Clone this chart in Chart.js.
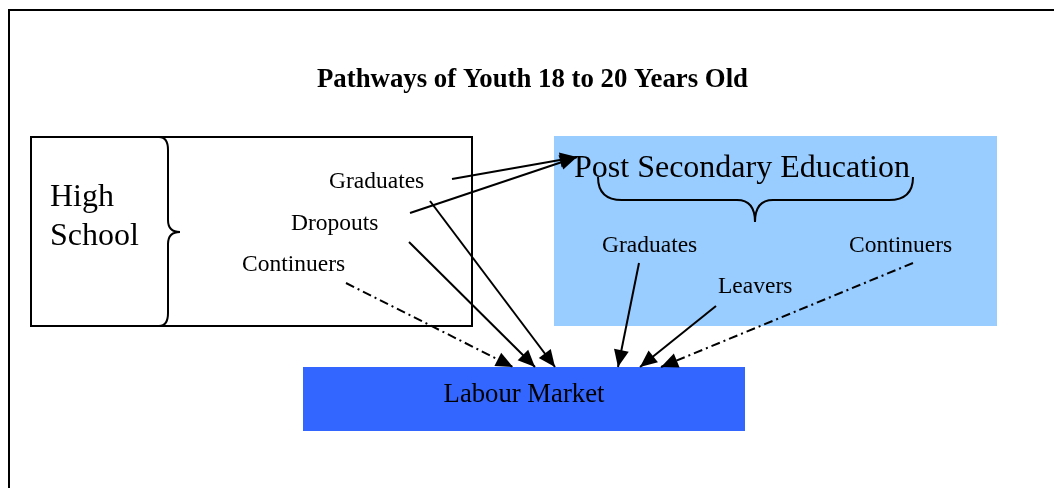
<!DOCTYPE html>
<html><head><meta charset="utf-8">
<script src="https://cdn.jsdelivr.net/npm/chart.js@4/dist/chart.umd.min.js"></script>
<style>html,body{margin:0;padding:0;background:#fff}#wrap{width:1054px;height:488px;position:relative}</style>
</head><body><div id="wrap"><canvas id="c"></canvas></div>
<script>
// ---- content ----
const chartTitle = 'Pathways of Youth 18 to 20 Years Old';
const stages = ['High School', 'Post Secondary Education', 'Labour Market'];
const hsOutcomes = ['Graduates', 'Dropouts', 'Continuers'];
const pseOutcomes = ['Graduates', 'Leavers', 'Continuers'];
// flows between stages
const flowSource  = ['High School','High School','High School','High School','High School','Post Secondary Education','Post Secondary Education','Post Secondary Education'];
const flowOutcome = ['Graduates','Dropouts','Graduates','Dropouts','Continuers','Graduates','Leavers','Continuers'];
const flowTarget  = ['Post Secondary Education','Post Secondary Education','Labour Market','Labour Market','Labour Market','Labour Market','Labour Market','Labour Market'];
const flowKind    = ['full','full','full','full','partial','full','full','partial'];

// ---- layout (diagram coordinates, mapped through the chart scales) ----
const stageBox = { // x0, y0, x1, y1
  'High School': [31, 137, 472, 326],
  'Post Secondary Education': [554, 136, 997, 326],
  'Labour Market': [303, 367, 745, 431]
};
const stageFill = {'High School': null, 'Post Secondary Education': '#99CCFF', 'Labour Market': '#3366FF'};
const hsOutcomePos  = [[329, 188], [291, 230], [242, 271]];
const pseOutcomePos = [[602, 252], [718, 293], [849, 252]];
const flowStart = [[452,179],[410,213],[430,201],[409,242],[346,283],[639,263],[716,306],[913,263]];
const flowEnd   = [[577,157],[577,157],[555,367],[535,367],[513,367],[618,367],[640,367],[661,367]];
const serif = '"Liberation Serif", "Times New Roman", serif';

const datasets = flowSource.map((s, i) => ({
  label: s + ' ' + flowOutcome[i] + ' \u2192 ' + flowTarget[i],
  data: [{x: flowStart[i][0], y: flowStart[i][1]}, {x: flowEnd[i][0], y: flowEnd[i][1]}],
  showLine: true,
  borderColor: '#000',
  borderWidth: 2,
  borderDash: flowKind[i] === 'partial' ? [9, 4, 2, 4] : [],
  pointRadius: 0,
  clip: false
}));

const diagram = {
  id: 'diagram',
  beforeDraw(chart) {
    const c = chart.ctx;
    c.save(); c.fillStyle = '#fff'; c.fillRect(0, 0, chart.width, chart.height); c.restore();
  },
  beforeDatasetsDraw(chart) {
    const c = chart.ctx, X = v => chart.scales.x.getPixelForValue(v), Y = v => chart.scales.y.getPixelForValue(v);
    c.save();
    // outer frame (cut at the page edge)
    c.strokeStyle = '#000'; c.lineWidth = 2;
    c.beginPath(); c.moveTo(X(9), Y(488)); c.lineTo(X(9), Y(10)); c.lineTo(X(1054), Y(10)); c.stroke();
    // title
    c.fillStyle = '#000'; c.textAlign = 'center'; c.textBaseline = 'alphabetic';
    c.font = 'bold 26.8px ' + serif;
    c.fillText(chartTitle, X(532.5), Y(87));
    // stage boxes
    stages.forEach(s => {
      const b = stageBox[s];
      const x0 = X(b[0]), y0 = Y(b[1]), x1 = X(b[2]), y1 = Y(b[3]);
      if (stageFill[s]) { c.fillStyle = stageFill[s]; c.fillRect(x0, y0, x1 - x0, y1 - y0); }
      else { c.lineWidth = 2; c.strokeStyle = '#000'; c.strokeRect(x0, y0, x1 - x0, y1 - y0); }
    });
    // High School brace
    c.strokeStyle = '#000'; c.lineWidth = 2;
    c.beginPath();
    c.moveTo(X(159), Y(137));
    c.quadraticCurveTo(X(168), Y(137), X(168), Y(150));
    c.lineTo(X(168), Y(220));
    c.quadraticCurveTo(X(168), Y(232), X(180), Y(232));
    c.quadraticCurveTo(X(168), Y(232), X(168), Y(244));
    c.lineTo(X(168), Y(313));
    c.quadraticCurveTo(X(168), Y(326), X(159), Y(326));
    c.stroke();
    // Post Secondary brace
    c.beginPath();
    c.moveTo(X(598), Y(177));
    c.quadraticCurveTo(X(598), Y(200), X(622), Y(200));
    c.lineTo(X(737), Y(200));
    c.quadraticCurveTo(X(755), Y(200), X(755), Y(222));
    c.quadraticCurveTo(X(755), Y(200), X(773), Y(200));
    c.lineTo(X(889), Y(200));
    c.quadraticCurveTo(X(913), Y(200), X(913), Y(177));
    c.stroke();
    // stage labels
    c.fillStyle = '#000'; c.textAlign = 'left';
    c.font = '32px ' + serif;
    const hs = stages[0].split(' ');
    c.fillText(hs[0], X(50), Y(206));
    c.fillText(hs[1], X(50), Y(245));
    c.fillText(stages[1], X(574), Y(177));
    c.textAlign = 'center'; c.font = '26.7px ' + serif;
    c.fillText(stages[2], X(524), Y(402));
    // outcome labels
    c.textAlign = 'left'; c.font = '23.5px ' + serif;
    hsOutcomes.forEach((t, i) => c.fillText(t, X(hsOutcomePos[i][0]), Y(hsOutcomePos[i][1])));
    pseOutcomes.forEach((t, i) => c.fillText(t, X(pseOutcomePos[i][0]), Y(pseOutcomePos[i][1])));
    c.restore();
  },
  afterDatasetsDraw(chart) {
    const c = chart.ctx;
    c.save(); c.fillStyle = '#000';
    chart.data.datasets.forEach((d, i) => {
      const pts = chart.getDatasetMeta(i).data;
      const a = pts[0], b = pts[pts.length - 1];
      const ang = Math.atan2(b.y - a.y, b.x - a.x), L = 17, W = 7.5;
      const bx = b.x - L * Math.cos(ang), by = b.y - L * Math.sin(ang);
      c.beginPath();
      c.moveTo(b.x, b.y);
      c.lineTo(bx + W * Math.sin(ang), by - W * Math.cos(ang));
      c.lineTo(bx - W * Math.sin(ang), by + W * Math.cos(ang));
      c.closePath(); c.fill();
    });
    c.restore();
  }
};

new Chart(document.getElementById('c'), {
  type: 'scatter',
  data: { datasets },
  options: {
    responsive: true, maintainAspectRatio: false, animation: false, events: [],
    layout: { padding: 0 },
    plugins: { legend: { display: false }, tooltip: { enabled: false }, title: { display: false } },
    scales: {
      x: { type: 'linear', min: 0, max: 1054, display: false },
      y: { type: 'linear', min: 0, max: 488, reverse: true, display: false }
    }
  },
  plugins: [diagram]
});
</script>
</body></html>
